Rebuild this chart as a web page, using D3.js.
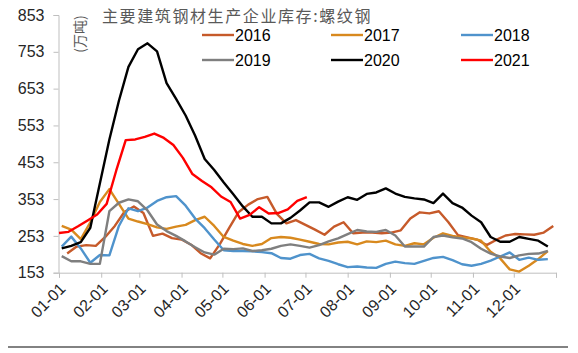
<!DOCTYPE html>
<html>
<head>
<meta charset="utf-8">
<script src="https://cdn.jsdelivr.net/npm/d3@7"></script>
<style>
  body { margin: 0; background: #fff; }
  text { font-family: "Liberation Sans", Arial, sans-serif; }
</style>
</head>
<body>
<div id="chart"></div>
<script>
let width = 578, height = 353;

const years = ["2016", "2017", "2018", "2019", "2020", "2021"];
const colors = ["#c65a2a", "#d8891e", "#4f93cc", "#7f7f7f", "#000000", "#ff0000"];
const firstDay = [6, 2, 2, 2, 2, 0]; // day of year of the first weekly reading
const yTicks = [153, 253, 353, 453, 553, 653, 753, 853];

const v2016 = [205,224,228,226,250,280,318,333,315,253,259,247,243,229,206,192,230,275,318,338,353,359,313,287,296,283,270,256,278,290,260,262,262,260,262,268,300,317,314,320,290,255,249,243,228,242,254,258,257,256,262,280];
const v2017 = [280,270,244,290,345,380,340,300,292,285,276,272,278,283,296,305,280,250,240,231,226,231,247,250,248,243,237,231,230,235,237,230,238,236,240,230,226,233,230,248,260,253,249,246,240,210,192,162,156,172,190,212];
const v2018 = [224,251,219,180,201,200,280,328,320,330,348,358,361,335,300,274,243,214,212,212,211,209,206,193,191,201,204,192,185,176,168,170,167,166,177,183,179,177,185,193,196,187,176,172,177,186,197,208,188,194,188,190];
const v2019 = [198,184,184,177,177,320,343,352,347,322,284,266,253,238,222,208,202,218,217,219,212,214,218,226,230,226,221,228,238,246,258,269,265,264,269,254,224,224,224,250,254,249,246,236,218,205,197,193,200,204,205,212];
const v2020 = [219,226,236,275,395,515,620,712,760,776,754,668,625,580,525,462,432,398,366,333,305,305,287,287,302,322,344,344,332,346,358,351,367,371,382,368,359,355,352,342,368,342,330,308,290,250,237,237,250,245,240,224];
const v2021 = [261,264,279,295,311,340,430,513,515,522,531,519,500,465,421,402,385,360,345,300,310,331,314,315,325,348,358];

const values = [v2016, v2017, v2018, v2019, v2020, v2021];

const svg = d3.select("#chart")
  .append("svg")
  .attr("width", width)
  .attr("height", height);

let x = d3.scaleTime()
  .domain([new Date(2021, 0, 1), new Date(2022, 0, 1)])
  .range([59, 556]);

let y = d3.scaleLinear()
  .domain([153, 853])
  .range([272.7, 15]);

// y axis
let yAxis = svg.append("g")
  .attr("transform", "translate(58.5,0)")
  .call(d3.axisLeft(y).tickValues(yTicks).tickSize(5).tickPadding(9));
yAxis.select(".domain").attr("stroke", "#bfbfbf");
yAxis.selectAll(".tick line").attr("stroke", "#bfbfbf");
yAxis.selectAll("text").attr("font-size", 16).attr("fill", "#262626")
  .style("font-family", "'Liberation Sans', Arial, sans-serif");

// x axis, month ticks
let months = d3.timeMonth.range(new Date(2021, 0, 1), new Date(2022, 0, 2));
let xAxis = svg.append("g")
  .attr("transform", "translate(0,272.7)")
  .call(d3.axisBottom(x).tickValues(months).tickSize(5)
    .tickFormat(d => d.getFullYear() === 2022 ? "" : d3.timeFormat("%m-%d")(d)));
xAxis.select(".domain").attr("stroke", "#bfbfbf");
xAxis.selectAll(".tick line").attr("stroke", "#bfbfbf");
xAxis.selectAll("text")
  .attr("y", 0).attr("dy", null)
  .attr("text-anchor", "end")
  .attr("transform", "translate(7,17) rotate(-45)")
  .attr("font-size", 16).attr("fill", "#262626")
  .style("font-family", "'Liberation Sans', Arial, sans-serif");

let line = d3.line()
  .x(d => x(d.date))
  .y(d => y(d.value));

years.forEach((yr, k) => {
  let data = values[k].map((v, i) => ({ date: new Date(2021, 0, 1 + firstDay[k] + 7 * i), value: v }));
  svg.append("path")
    .datum(data)
    .attr("fill", "none")
    .attr("stroke", colors[k])
    .attr("stroke-width", 2.4)
    .attr("stroke-linejoin", "round")
    .attr("d", line);
});

// title and unit
svg.append("text")
  .attr("x", 102)
  .attr("y", 22)
  .attr("font-size", 16)
  .attr("letter-spacing", 1.6)
  .attr("fill", "#595959")
  .style("font-family", "'Noto Sans CJK SC', sans-serif")
  .text("主要建筑钢材生产企业库存:螺纹钢");

svg.append("text")
  .attr("transform", "translate(85,34) rotate(-90)")
  .attr("text-anchor", "middle")
  .attr("font-size", 14)
  .attr("fill", "#595959")
  .style("font-family", "'Noto Sans CJK SC', sans-serif")
  .text("(万吨)");

// legend
let legendX = [202, 331, 461], legendY = [35, 60];
years.forEach((yr, k) => {
  let lx = legendX[k % 3], ly = legendY[Math.floor(k / 3)];
  svg.append("line")
    .attr("x1", lx).attr("x2", lx + 32)
    .attr("y1", ly).attr("y2", ly)
    .attr("stroke", colors[k])
    .attr("stroke-width", 2.4);
  svg.append("text")
    .attr("x", lx + 33)
    .attr("y", ly + 6)
    .attr("font-size", 16)
    .attr("fill", "#000")
    .text(yr);
});

// bottom rule
svg.append("line")
  .attr("x1", 8).attr("x2", 568)
  .attr("y1", 347).attr("y2", 347)
  .attr("stroke", "#595959")
  .attr("stroke-width", 1.5);
</script>
</body>
</html>
